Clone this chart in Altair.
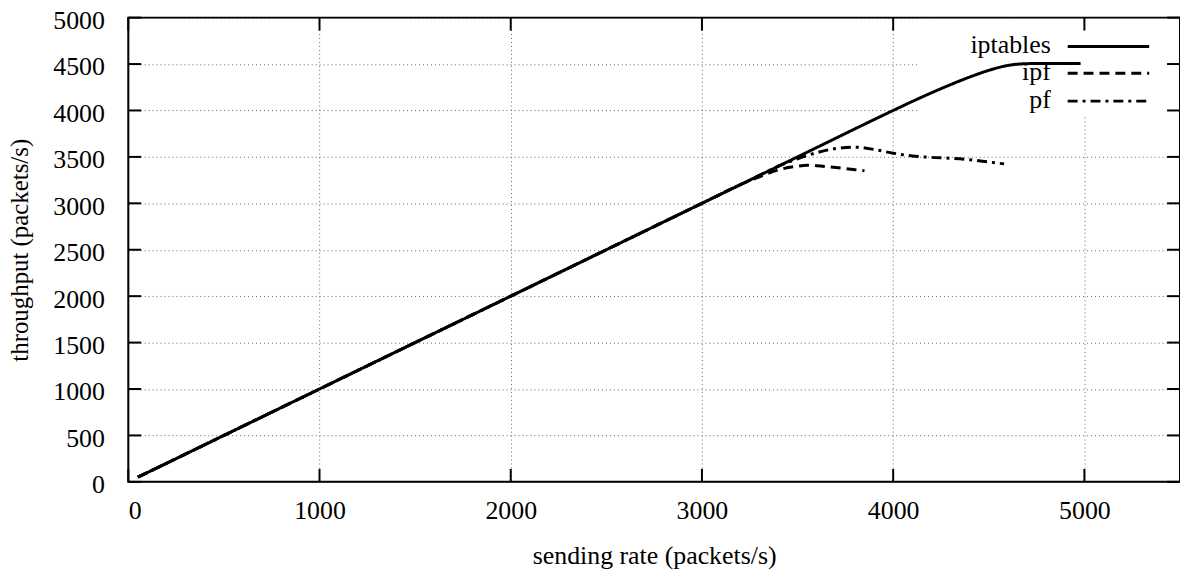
import altair as alt
import pandas as pd

# ---- data ----
iptables_x = [50, 500, 1000, 1500, 2000, 2500, 3000, 3500, 4000, 4100, 4200, 4300, 4400, 4500, 4600, 4700, 4800, 4980]
iptables_y = [50, 500, 1000, 1500, 2000, 2500, 3000, 3500, 4000, 4097, 4190, 4278, 4360, 4432, 4485, 4504, 4507, 4507]

ipf_x = [50, 500, 1000, 1500, 2000, 2500, 3000, 3200, 3300, 3400, 3500, 3550, 3600, 3700, 3800, 3850]
ipf_y = [50, 500, 1000, 1500, 2000, 2500, 3000, 3200, 3285, 3360, 3400, 3410, 3405, 3385, 3362, 3350]

pf_x = [50, 500, 1000, 1500, 2000, 2500, 3000, 3300, 3400, 3500, 3600, 3700, 3800, 3900, 4000, 4100, 4200, 4300, 4400, 4500, 4580]
pf_y = [50, 500, 1000, 1500, 2000, 2500, 3000, 3300, 3400, 3480, 3545, 3590, 3605, 3580, 3540, 3510, 3495, 3485, 3470, 3445, 3425]

series_names = ["iptables", "ipf", "pf"]
x_ticks = [0, 1000, 2000, 3000, 4000, 5000]
y_ticks = [0, 500, 1000, 1500, 2000, 2500, 3000, 3500, 4000, 4500, 5000]

FONT = "Liberation Serif"
W, H = 1058, 467

rows = []
for name, xs_, ys_ in [("iptables", iptables_x, iptables_y), ("ipf", ipf_x, ipf_y), ("pf", pf_x, pf_y)]:
    for a, b in zip(xs_, ys_):
        rows.append({"series": name, "rate": a, "thr": b})
df = pd.DataFrame(rows)

xs = alt.Scale(domain=[0, 5500], nice=False, zero=False)
ys = alt.Scale(domain=[0, 5000], nice=False, zero=False)

xaxis = alt.Axis(values=x_ticks, grid=True, gridDash=[1, 3], gridColor="#666", gridWidth=1,
                 ticks=False, domain=False, labelFont=FONT, labelFontSize=26, labelColor="black",
                 labelPadding=16, title="sending rate (packets/s)", titleFont=FONT, titleFontSize=26,
                 titleFontWeight="normal", titleColor="black", titlePadding=19, format="d")
yaxis = alt.Axis(values=y_ticks, grid=True, gridDash=[1, 3], gridColor="#666", gridWidth=1,
                 ticks=False, domain=False, labelFont=FONT, labelFontSize=26, labelColor="black",
                 labelPadding=24, labelOffset=3, title="throughput (packets/s)", titleFont=FONT,
                 titleFontSize=25, titleFontWeight="normal", titleColor="black", titlePadding=20,
                 format="d")

dash_scale = alt.Scale(domain=series_names, range=[[1, 0], [10, 6], [10, 5, 3, 5]])

one = pd.DataFrame({"a": [0]})

# white key box
keybox = alt.Chart(one).mark_rect(fill="white", stroke=None).encode(
    x=alt.value(796), x2=alt.value(W - 1), y=alt.value(1), y2=alt.value(99)
)

lines = alt.Chart(df).mark_line(color="black", strokeWidth=3, interpolate="monotone").encode(
    x=alt.X("rate:Q", scale=xs, axis=xaxis),
    y=alt.Y("thr:Q", scale=ys, axis=yaxis),
    strokeDash=alt.StrokeDash("series:N", scale=dash_scale, legend=None),
    detail="series:N",
    order="rate:Q",
)

xt = pd.DataFrame({"v": x_ticks})
yt = pd.DataFrame({"v": y_ticks})
TL = 13
xtick_bot = alt.Chart(xt).mark_rule(color="black", strokeWidth=2).encode(
    x=alt.X("v:Q", scale=xs), y=alt.value(H), y2=alt.value(H - TL))
xtick_top = alt.Chart(xt).mark_rule(color="black", strokeWidth=2).encode(
    x=alt.X("v:Q", scale=xs), y=alt.value(0), y2=alt.value(TL))
ytick_l = alt.Chart(yt).mark_rule(color="black", strokeWidth=2).encode(
    y=alt.Y("v:Q", scale=ys), x=alt.value(0), x2=alt.value(TL))
ytick_r = alt.Chart(yt).mark_rule(color="black", strokeWidth=2).encode(
    y=alt.Y("v:Q", scale=ys), x=alt.value(W), x2=alt.value(W - TL))

# manual key (label on the left, sample on the right)
key_df = pd.DataFrame({"series": series_names, "ypix": [29, 56, 84]})
key_text = alt.Chart(key_df).mark_text(align="right", baseline="middle", font=FONT, fontSize=26,
                                       color="black", dy=-1).encode(
    x=alt.value(928), y=alt.Y("ypix:Q", scale=None), text="series:N")
key_line = alt.Chart(key_df).mark_rule(color="black", strokeWidth=3).encode(
    x=alt.value(945), x2=alt.value(1027), y=alt.Y("ypix:Q", scale=None),
    strokeDash=alt.StrokeDash("series:N", scale=dash_scale, legend=None))

border = alt.Chart(one).mark_rect(fill=None, stroke="black", strokeWidth=2).encode(
    x=alt.value(0), x2=alt.value(W), y=alt.value(0), y2=alt.value(H))

chart = alt.layer(keybox, lines, xtick_bot, xtick_top, ytick_l, ytick_r, key_text, key_line, border).properties(
    width=W, height=H,
    autosize=alt.AutoSizeParams(type="none"),
    padding={"left": 121, "top": 8, "right": 0, "bottom": 88},
).configure_view(stroke=None).configure(background="white")

chart.save("out.html", embed_options={"renderer": "svg", "actions": False})
